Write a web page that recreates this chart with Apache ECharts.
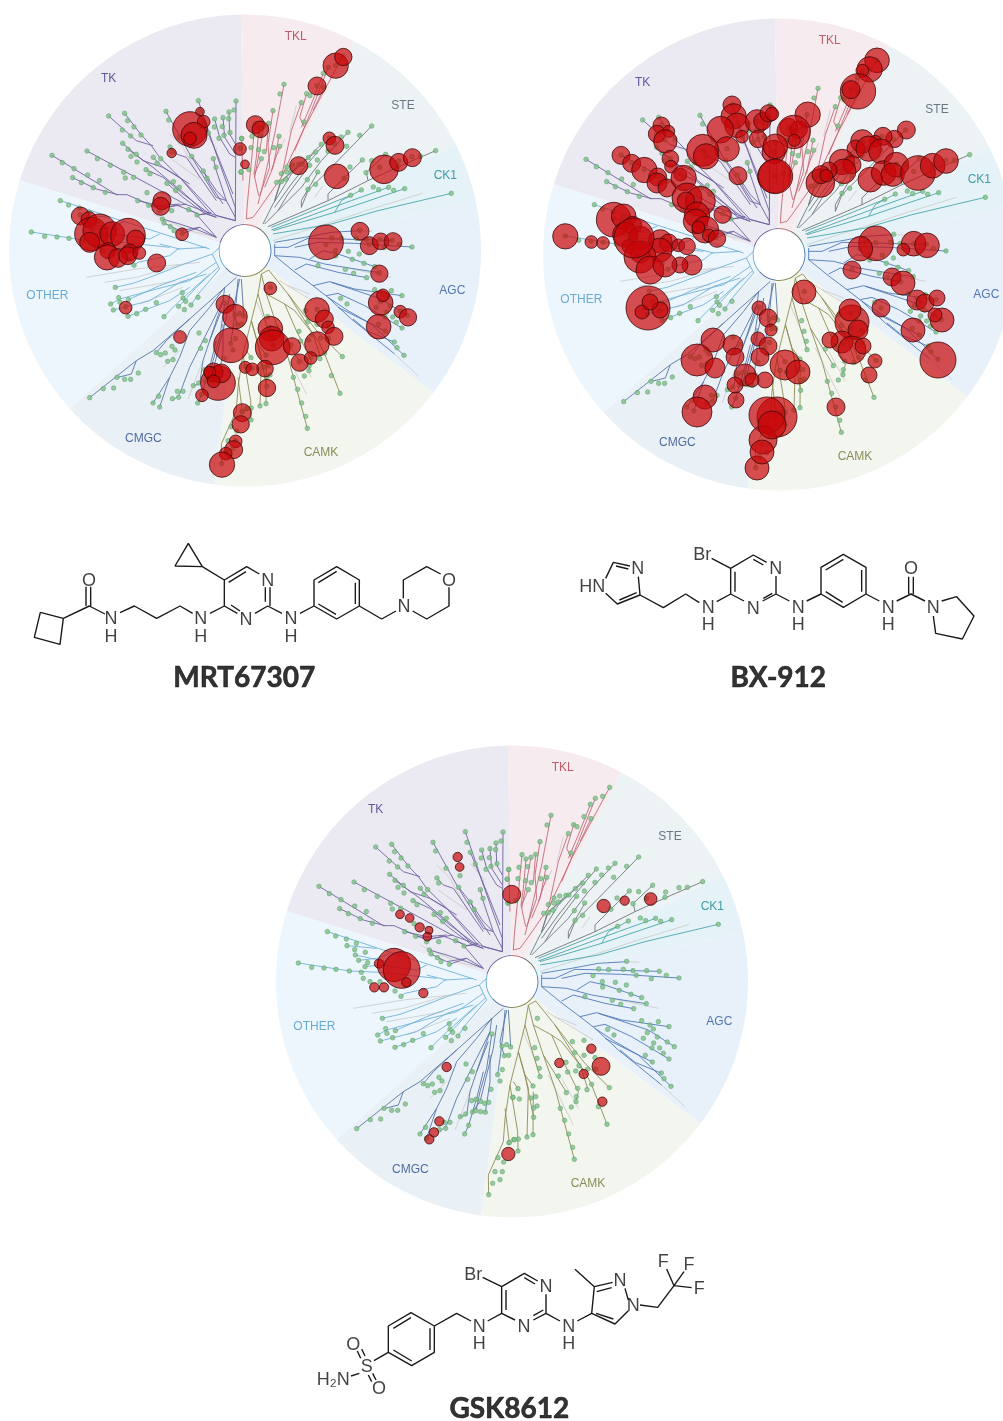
<!DOCTYPE html>
<html>
<head>
<meta charset="utf-8">
<style>html,body{margin:0;background:#fff}#chart{width:1003px;height:1421px}</style>
<script src="https://cdn.jsdelivr.net/npm/echarts@6/dist/echarts.min.js"></script>
</head>
<body>
<div id="chart"></div>
<script>
// every tree is read in one space: 3 units to a pixel, hub at (726,738)
const families = ['TK', 'TKL', 'STE', 'CK1', 'AGC', 'CAMK', 'CMGC', 'OTHER'];
const familySpans = [71.7, 28.6, 35.6, 14.8, 49, 60.5, 40.5, 59.3];
const familyLabelX = [317, 878, 1200, 1327, 1348, 954, 421, 133];
const familyLabelY = [225, 99, 305, 515, 861, 1345, 1305, 874];

// branches as flat x,y polylines, one list per family and per quadrant of the tree
const tkNW = [
  [147,454, 340,572, 372,572, 470,615, 520,603, 575,625, 640,700],
  [209,521, 280,555, 345,572],
  [252,441, 450,548, 545,600, 632,632, 697,650],
  [365,328, 415,393, 445,425, 470,460, 560,550, 640,635, 697,650],
  [317,336, 400,410, 450,425],
  [359,418, 420,470, 480,490, 560,540],
  [375,436, 450,490, 540,565, 600,620],
  [489,322, 560,450, 640,580, 670,590, 697,640],
  [586,290, 640,450, 697,610, 697,650],
  [699,291, 697,650],
  [601,352, 650,470, 690,570],
  [635,345, 650,400, 680,450, 697,460],
  [660,341, 665,400, 697,450],
  [678,324, 680,390, 697,420],
  [501,429, 520,450, 550,460, 640,590],
  [566,457, 600,500, 640,560, 670,590],
  [631,464, 640,500, 670,590],
  [601,501, 620,540, 660,600],
  [492,538, 540,580, 600,625, 640,640],
  [450,460, 480,490, 530,520, 620,625],
  [429,497, 480,520, 540,570, 620,630],
  [557,617, 590,632, 625,625],
  [582,633, 610,630, 640,640],
  [478,645, 530,660, 590,680, 640,700],
  [483,657, 530,680, 590,670, 640,700],
  [538,688, 590,670],
  [404,590, 470,605, 530,600],
  [437,604, 490,610, 550,600]
];
const otherNW = [
  [172,590, 250,615, 340,645, 450,680, 620,735],
  [85,684, 240,708, 330,712, 500,730],
  [231,632, 320,640],
  [256,660, 350,680],
  [266,676, 320,670, 360,655],
  [285,695, 330,690, 440,705, 470,690]
];
const otherSW = [
  [610,10, 525,15, 500,35, 405,55, 393,64],
  [628,30, 530,65, 440,100, 390,118, 337,130],
  [640,55, 560,110, 480,130, 350,165, 323,180],
  [580,85, 470,125, 376,167],
  [610,90, 530,115, 440,170, 331,198],
  [620,90, 520,180, 483,218],
  [645,70, 580,130, 530,185],
  [650,75, 590,145, 564,183],
  [375,217, 500,170, 560,130],
  [650,75, 640,55, 628,30, 650,10],
  [470,0, 530,15]
];
const cmgcSW = [
  [700,100, 560,225, 450,320, 400,350, 260,461],
  [400,350, 385,390, 345,400],
  [460,326, 490,290, 560,225],
  [665,130, 620,190, 560,260, 530,340, 500,400, 450,477],
  [660,170, 620,250, 580,330, 560,370, 530,450, 510,470],
  [655,200, 620,290, 600,350, 590,420, 571,425],
  [665,130, 660,170, 620,290],
  [710,105, 690,200, 703,242],
  [715,105, 720,180, 722,216],
  [705,105, 700,170, 690,250, 683,299],
  [680,150, 670,220, 650,300, 630,380, 607,411],
  [665,180, 650,280, 630,350, 618,407],
  [660,240, 660,320, 646,412],
  [640,290, 620,370, 596,451, 584,477],
  [500,400, 470,489]
];
const camkSE = [
  [92,78, 150,150, 200,215, 240,265, 313,338],
  [70,90, 85,150, 140,180, 170,200, 240,290, 260,330, 306,448],
  [85,150, 115,240, 150,340, 208,553],
  [115,240, 185,353],
  [140,180, 175,260, 220,350, 212,380],
  [150,150, 225,270, 248,340],
  [70,90, 60,150, 40,230, 15,330, 0,430, -5,500, -50,600, -49,659],
  [60,150, 85,240, 105,305],
  [40,230, 60,300, 84,333],
  [60,300, 86,427],
  [40,230, 70,340, 66,486],
  [15,330, 38,470, 39,528],
  [85,350, 84,479],
  [25,320, 39,341],
  [0,400, 13,503],
  [92,78, 70,90]
];
const agcSE = [
  [170,78, 205,60, 300,85, 386,101],
  [225,125, 275,113, 350,135, 492,155],
  [280,115, 340,135, 430,165, 508,215],
  [265,155, 300,148, 380,185, 492,252],
  [270,160, 330,200, 400,240, 498,334],
  [345,225, 390,262, 470,295],
  [300,190, 442,261],
  [110,35, 165,80, 225,125, 270,160, 340,225, 390,265, 470,330],
  [110,35, 185,40, 260,60, 320,70, 424,86],
  [215,45, 255,20, 300,30, 410,68],
  [110,0, 110,35]
];
const agcNE = [
  [110,715, 200,700, 280,685, 365,680],
  [110,730, 150,730, 210,703, 300,705, 463,709],
  [170,730, 240,715, 350,718, 522,729]
];
const tklNE = [
  [314,157, 200,370, 130,520, 60,620, 45,640, 25,645],
  [271,190, 220,320, 170,440],
  [256,208, 220,300, 190,370],
  [258,251, 225,320],
  [206,269, 185,340, 200,370],
  [190,296, 160,380, 130,520],
  [138,241, 110,390, 75,540, 60,600],
  [105,320, 90,420, 95,490, 65,575],
  [92,358, 85,440],
  [78,367, 50,520],
  [63,372, 55,460, 48,510, 62,575],
  [51,359, 28,600, 25,645],
  [11,403, 15,530],
  [123,397, 105,490, 80,550],
  [125,427, 100,500],
  [70,464, 50,510]
];
const steNE = [
  [593,440, 500,480, 390,530, 270,590, 90,668],
  [443,451, 385,505, 390,530],
  [373,468, 315,525, 270,570, 270,590],
  [401,366, 280,490, 210,560, 190,610],
  [330,385, 250,470, 190,550, 130,610, 80,660],
  [274,402, 200,490, 160,540, 110,610],
  [250,421, 160,510, 130,560, 105,600, 75,660],
  [233,444, 130,530, 110,590],
  [183,481, 125,540, 110,590],
  [215,484, 150,570, 120,620],
  [240,504, 190,590, 190,610]
];
const ck1NE = [
  [105,680, 290,625, 500,554],
  [640,568, 420,620, 280,660, 105,690],
  [338,574, 100,670],
  [370,558, 310,590, 290,625],
  [452,550, 340,590, 100,678]
];
const greyNW = [[500,390, 540,430, 590,520], [600,385, 640,430, 640,450], [505,465, 540,490, 590,525], [450,630, 560,680, 640,700]];
const greySW = [[250,100, 400,75, 590,55], [305,115, 400,100, 530,62], [350,140, 520,110], [410,180, 540,130], [480,370, 530,320], [555,465, 600,350]];
const greySE = [[125,110, 190,150, 265,195], [150,125, 215,150], [130,300, 205,450], [55,170, 100,280], [170,310, 220,400], [470,330, 540,395], [320,70, 460,100]];
const greyNE = [[175,305, 155,385], [140,405, 120,450], [255,545, 230,580], [553,568, 400,615, 310,645, 105,710], [365,680, 403,682]];

// leaf dots, flat x,y per quadrant
const leavesNW = [147,454,178,476,213,494,254,513,209,521,235,536,271,551,289,530,307,565,252,441,283,464,322,484,362,505,367,522,392,520,404,590,437,604,470,620,506,620,557,617,582,633,478,645,483,657,502,668,513,680,538,688,317,336,365,328,374,350,358,378,393,369,383,396,414,393,359,418,375,436,384,457,400,451,402,474,451,460,473,464,462,478,429,497,441,509,489,322,497,348,501,429,506,444,566,457,631,464,639,490,601,501,612,523,492,538,511,533,518,559,529,550,528,400,570,422,586,290,591,322,601,352,616,387,635,345,660,341,678,324,693,318,699,291,634,369,658,368,677,344,681,386,663,394,648,403,432,566,716,404,712,433,714,505,172,590,197,603,229,612,259,625,231,632,254,644,286,652,256,660,266,676,293,683,285,695,274,712,85,684,125,697,162,699,198,703,238,708];
const leavesNE = [314,157,293,184,271,190,256,208,258,251,237,245,206,269,216,275,190,296,198,354,138,241,126,270,105,320,92,358,78,367,63,372,51,359,42,397,68,395,11,403,39,431,62,437,79,443,70,464,107,431,125,427,123,397,6,432,9,503,33,497,401,366,330,385,365,394,310,399,274,402,250,421,290,420,326,427,233,444,270,442,211,461,238,468,183,481,192,480,215,484,164,483,147,489,146,504,160,501,130,509,144,526,130,533,116,535,239,504,208,527,233,541,210,556,318,523,336,489,373,468,401,470,443,451,384,506,425,490,482,471,480,487,522,458,547,457,593,440,338,574,370,558,406,549,422,557,452,550,467,559,500,554,640,568,365,679,281,702,311,704,355,703,384,707,425,707,463,709,264,722,394,721,439,731,484,721,522,729];
const leavesSW = [280,10,300,20,330,20,375,48,393,64,337,130,347,161,376,167,323,180,351,175,368,188,331,198,375,217,401,209,428,196,460,176,483,218,527,187,544,197,564,183,585,160,538,146,540,162,548,172,260,461,301,434,332,432,342,400,365,406,383,406,406,387,460,326,473,332,487,327,507,307,516,318,494,352,510,347,588,267,607,290,593,313,666,177,696,214,710,209,722,216,703,242,716,241,697,284,683,299,690,318,663,343,605,377,618,373,632,379,644,385,656,382,607,411,618,407,632,410,646,412,587,417,571,425,540,442,527,460,523,442,508,464,467,457,450,477,470,489,596,451,584,477,656,659,668,625,675,590,684,548,697,590,690,614,701,561,717,503,731,494,728,367];
const leavesSE = [292,20,293,36,331,22,364,30,343,46,378,58,410,68,424,86,240,65,322,76,347,88,386,101,410,137,435,150,445,162,460,140,492,155,427,173,457,186,415,190,487,201,508,215,446,204,441,219,464,219,475,235,492,252,308,163,327,180,421,241,442,261,469,294,477,311,498,334,97,130,89,218,96,250,103,280,105,305,84,333,39,341,24,367,43,372,92,365,78,369,96,393,86,399,86,427,40,492,28,494,13,503,66,486,84,479,39,528,202,200,237,196,209,233,237,241,270,248,183,262,188,291,222,272,212,288,248,282,160,303,260,328,218,340,246,344,184,353,214,365,213,380,199,396,166,400,179,436,191,477,203,517,208,553,313,338,280,395,306,448,272,283];

// inhibited kinases, x, y, radius
const hitsMRT = [[561,375,52],[591,323,13],[602,353,19],[573,394,39],[561,403,19],[506,447,14],[711,435,19],[726,481,13],[477,590,27],[473,607,27],[537,691,19],[232,636,27],[258,647,24],[265,690,50],[290,680,50],[328,690,37],[375,695,52],[398,705,27],[315,740,24],[380,745,25],[260,715,30],[312,760,38],[345,762,28],[374,755,27],[409,747,19],[461,777,27],[368,911,19],[531,999,19],[666,901,27],[696,938,37],[684,1024,52],[802,853,19],[802,974,37],[806,1004,37],[809,1030,52],[867,1027,26],[942,918,37],[964,945,27],[975,970,19],[993,997,27],[942,1020,37],[890,1076,26],[923,1062,19],[786,1094,25],[727,1090,18],[748,1096,19],[792,1152,26],[645,1137,52],[632,1105,28],[655,1108,28],[620,1105,18],[632,1132,19],[597,1174,19],[718,1226,27],[713,1261,26],[698,1312,19],[692,1337,27],[668,1349,19],[657,1382,38],[969,715,52],[1071,682,27],[1099,725,27],[1133,712,25],[1170,713,27],[1129,809,26],[1133,897,37],[1140,874,19],[1192,923,19],[1215,940,26],[1127,968,37],[998,185,38],[1021,159,26],[942,246,27],[757,362,27],[772,376,25],[887,485,27],[979,403,19],[996,424,27],[1001,517,37],[1143,496,43],[1187,475,27],[1228,461,27]];
const hitsBX = [[585,291,27],[590,325,38],[600,352,37],[615,386,19],[550,365,40],[570,423,37],[497,427,48],[507,445,38],[603,503,27],[660,340,35],[676,340,26],[695,316,26],[663,393,26],[710,432,35],[712,505,50],[373,352,25],[360,378,26],[395,370,18],[385,400,35],[400,452,25],[402,476,19],[252,442,27],[284,466,27],[322,486,38],[362,507,27],[360,525,30],[390,540,27],[430,500,19],[440,510,38],[450,570,45],[490,580,45],[447,578,26],[480,620,38],[476,640,37],[505,665,40],[484,658,19],[515,682,19],[540,692,26],[557,620,26],[230,635,52],[260,625,37],[287,652,27],[265,680,38],[310,690,35],[370,700,35],[395,705,27],[424,712,19],[450,715,25],[275,715,20],[310,735,30],[85,685,38],[163,702,19],[198,705,19],[705,318,20],[812,320,38],[755,358,27],[785,365,26],[770,372,50],[772,397,18],[715,415,37],[715,505,52],[1020,157,37],[998,184,38],[976,188,19],[963,250,53],[942,245,27],[1108,366,27],[1072,393,26],[1038,385,27],[1015,400,18],[976,400,35],[957,423,27],[995,422,38],[1032,430,37],[1000,515,37],[1040,495,37],[1078,470,37],[1067,500,35],[1143,495,52],[1187,473,37],[1227,459,37],[915,462,38],[945,470,27],[920,490,37],[850,525,43],[875,487,25],[852,500,27],[868,503,19],[1017,706,52],[970,722,37],[1130,707,37],[1170,712,37],[1099,725,19],[945,786,27],[1065,807,27],[1098,825,36],[1140,876,30],[1164,885,27],[1200,870,24],[1215,936,36],[1128,966,36],[1194,921,21],[1203,1056,54],[1032,900,27],[801,852,36],[897,1197,27],[945,942,51],[939,906,33],[963,966,30],[915,1002,33],[945,1026,42],[978,1014,24],[1014,1059,21],[996,1101,24],[879,996,24],[666,900,21],[693,930,27],[702,966,18],[663,993,21],[528,996,36],[588,1011,30],[594,1047,27],[693,1014,27],[669,1047,27],[480,1056,48],[534,1080,30],[624,1101,33],[594,1131,24],[597,1176,24],[504,1167,36],[480,1212,45],[744,1071,45],[783,1092,36],[684,1116,24],[645,1116,21],[720,1227,60],[690,1221,54],[678,1296,42],[660,1380,36],[675,1332,36],[705,1251,42],[333,900,66],[315,912,21],[369,906,24],[339,882,24],[465,771,30],[429,771,24],[369,726,36],[309,747,48],[291,690,60],[339,786,42],[384,771,36]];
const hitsGSK = [[563,366,14],[569,396,13],[390,538,13],[419,549,13],[449,577,14],[477,586,12],[472,605,13],[725,478,27],[327,686,14],[372,690,50],[395,705,55],[313,757,14],[342,757,14],[409,742,14],[460,774,14],[530,996,14],[508,1159,14],[492,1192,14],[478,1213,14],[715,1257,20],[964,941,14],[868,984,14],[941,1017,14],[993,994,27],[997,1100,14],[1001,513,20],[1064,497,14],[1142,492,19]];

// molecules: bond polylines, then atoms as text,x,y; 3 units to a pixel
const bondsMRT = [
  [121,247, 190,265, 180,343, 103,322, 121,247],
  [190,265, 268,228, 315,252], [258,170, 258,228], [272,170, 272,228],
  [360,248, 403,228, 470,265, 540,228, 578,250], [630,250, 673,228],
  [712,250, 673,228, 673,150, 740,110, 778,132], [765,250, 803,228, 846,250], [796,172, 796,215], [810,172, 810,228],
  [686,157, 738,125], [693,225, 720,243],
  [607,110, 565,40, 525,108, 607,110], [607,110, 673,150],
  [900,250, 942,228, 942,150, 1010,110, 1078,150, 1078,228, 1010,267, 942,228],
  [955,158, 1010,124], [1066,158, 1066,222], [955,222, 1008,253],
  [1078,228, 1145,267, 1188,243], [1210,205, 1210,150, 1280,110, 1322,132],
  [1347,172, 1347,228, 1280,267, 1238,243]
];
const atomsMRT = [['O',267,152],['N',333,267],['H',333,320],['N',602,267],['H',602,320],['N',803,152],['N',738,270],['N',873,267],['H',873,320],['N',1212,230],['O',1347,152]];
const bondsBX = [
  [197,145, 220,97, 270,108], [295,140, 300,195, 232,222, 197,190], [228,108, 265,117], [238,210, 290,188],
  [300,195, 370,233, 437,192, 478,218], [530,215, 572,192],
  [612,213, 572,192, 572,115, 640,75, 680,97], [668,213, 708,192, 748,213], [708,138, 708,192],
  [585,125, 585,185], [640,88, 670,105], [670,205, 697,190], [515,85, 572,115],
  [800,213, 843,192, 843,112, 910,73, 978,112, 978,192, 910,232, 843,192],
  [857,120, 910,88], [965,120, 965,185], [857,185, 908,217],
  [978,192, 1018,213], [1070,213, 1113,192, 1155,213], [1106,140, 1106,192], [1120,140, 1120,192],
  [1205,213, 1250,200, 1302,258, 1267,327, 1187,310, 1180,258]
];
const atomsBX = [['HN',157,170],['N',293,118],['N',505,234],['H',505,285],['N',707,117],['N',640,237],['Br',487,75],['N',775,234],['H',775,285],['N',1045,234],['H',1045,285],['N',1180,234],['O',1113,117]];
const bondsGSK = [
  [265,322, 265,243, 333,203, 403,243, 403,322, 335,362, 265,322],
  [280,250, 333,218], [390,250, 390,315], [280,315, 335,348],
  [403,243, 470,205, 513,228], [563,228, 605,205],
  [645,225, 605,205, 605,125, 673,85, 713,108], [738,148, 738,205, 780,228], [738,205, 700,225],
  [618,135, 618,195], [673,98, 705,117], [700,212, 730,195], [548,97, 605,125],
  [832,228, 875,205, 883,125, 938,112], [975,130, 985,165], [985,197, 945,237, 875,205],
  [890,140, 935,128], [888,205, 940,222], [883,125, 825,73],
  [1020,180, 1073,187, 1122,122], [1122,122, 1100,72], [1122,122, 1152,80], [1122,122, 1175,128],
  [265,322, 222,347], [178,385, 153,393], [182,340, 172,318], [195,333, 185,312], [205,390, 215,410], [218,385, 228,405]
];
const atomsGSK = [['N',538,245],['H',538,297],['N',738,127],['N',672,247],['Br',520,89],['N',806,245],['H',806,297],['N',960,107],['N',1000,182],['F',1090,52],['F',1167,60],['F',1198,132],['S',200,367],['O',160,299],['O',237,432],['H₂N',100,405]];

const familyColors = ['#6f62a2', '#c26a78', '#70767c', '#4aa6a8', '#5079b6', '#8c8c55', '#5775a6', '#72b2d6'];
const sectorColors = ['#ebe9f1', '#f6ebee', '#edf2f5', '#e5f3f8', '#e8f1fa', '#f3f6ef', '#eaf1f6', '#edf6fc'];
const labelColors = ['#3a3488', '#ad3a4a', '#47566a', '#14868e', '#28589f', '#6e7230', '#284887', '#4598cb'];
const NW = [0, 0], NE = [705, 0], SW = [0, 720], SE = [705, 720];

function placed(polys, q) {
  const out = [];
  polys.forEach(p => {
    for (let i = 0; i < p.length; i += 2) out.push([p[i] + q[0], p[i + 1] + q[1]]);
    out.push(['-', '-']);
  });
  return out;
}
function pairs(flat, q) {
  const out = [];
  for (let i = 0; i < flat.length; i += 2) out.push([flat[i] + q[0], flat[i + 1] + q[1]]);
  return out;
}

const branchData = [
  placed(tkNW, NW),
  placed(tklNE, NE),
  placed(steNE, NE),
  placed(ck1NE, NE),
  placed(agcNE, NE).concat(placed(agcSE, SE)),
  placed(camkSE, SE),
  placed(cmgcSW, SW),
  placed(otherNW, NW).concat(placed(otherSW, SW))
];
const greyData = placed(greyNW, NW).concat(placed(greySW, SW), placed(greySE, SE), placed(greyNE, NE));
const leafData = pairs(leavesNW, NW).concat(pairs(leavesNE, NE), pairs(leavesSW, SW), pairs(leavesSE, SE));

const trees = [
  { left: 3, top: 4, w: 490, hits: hitsMRT },
  { left: 537, top: 8, w: 466, hits: hitsBX },
  { left: 270, top: 735, w: 490, hits: hitsGSK }
];
const molecules = [
  { left: 0, top: 530, w: 500, h: 170, bonds: bondsMRT, atoms: atomsMRT, name: 'MRT67307', nx: 733, ny: 445 },
  { left: 540, top: 530, w: 463, h: 170, bonds: bondsBX, atoms: atomsBX, name: 'BX-912', nx: 715, ny: 445 },
  { left: 300, top: 1245, w: 440, h: 176, bonds: bondsGSK, atoms: atomsGSK, name: 'GSK8612', nx: 628, ny: 492 }
];

const grid = [], xAxis = [], yAxis = [], series = [];
function addSpace(left, top, w, h) {
  grid.push({ left, top, width: w, height: h });
  xAxis.push({ type: 'value', min: 0, max: w * 3, show: false, gridIndex: grid.length - 1 });
  yAxis.push({ type: 'value', min: 0, max: h * 3, inverse: true, show: false, gridIndex: grid.length - 1 });
  return grid.length - 1;
}
const pieOf = (center, radius, colors, z) => ({
  type: 'pie', center, radius, startAngle: 162.7, silent: true, z, label: { show: false }, labelLine: { show: false },
  data: familySpans.map((v, i) => ({ value: v, name: families[i], itemStyle: { color: colors[i] } }))
});

trees.forEach(t => {
  const g = addSpace(t.left, t.top, t.w, 490);
  const axes = { xAxisIndex: g, yAxisIndex: g };
  const center = [t.left + 242, t.top + 246.5];
  series.push(pieOf(center, [27, 236], sectorColors, 1));
  series.push(pieOf(center, [25.5, 26.5], familyColors, 2));
  series.push({ type: 'line', ...axes, data: greyData, showSymbol: false, clip: false, silent: true, z: 3, lineStyle: { color: '#c9c9c9', width: 0.8 } });
  branchData.forEach((d, i) => {
    series.push({ type: 'line', ...axes, data: d, showSymbol: false, clip: false, silent: true, z: 4, lineStyle: { color: familyColors[i], width: 0.9 } });
  });
  series.push({
    type: 'scatter', ...axes, data: leafData, symbolSize: 4.6, clip: false, silent: true, z: 5,
    itemStyle: { color: '#80c088', borderColor: '#569a68', borderWidth: 0.6 }
  });
  series.push({
    type: 'scatter', ...axes, data: t.hits, symbolSize: d => d[2] * 2 / 3, clip: false, silent: true, z: 6,
    itemStyle: { color: 'rgba(200,5,8,0.88)', borderColor: '#3d0a0a', borderWidth: 1 }
  });
  series.push({
    type: 'scatter', ...axes, symbolSize: 0, clip: false, silent: true, z: 7,
    data: families.map((f, i) => ({
      value: [familyLabelX[i], familyLabelY[i]],
      label: { show: true, position: 'inside', formatter: f, color: labelColors[i], fontSize: 12, fontFamily: 'Liberation Sans' }
    }))
  });
});

molecules.forEach(m => {
  const g = addSpace(m.left, m.top, m.w, m.h);
  const axes = { xAxisIndex: g, yAxisIndex: g };
  series.push({ type: 'line', ...axes, data: placed(m.bonds, NW), showSymbol: false, clip: false, silent: true, z: 3, lineStyle: { color: '#1a1a1a', width: 1.4 } });
  series.push({
    type: 'scatter', ...axes, symbolSize: 0, clip: false, silent: true, z: 4,
    data: m.atoms.map(a => ({
      value: [a[1], a[2]],
      label: { show: true, position: 'inside', formatter: a[0], color: '#111', fontSize: 18, fontFamily: 'Liberation Sans' }
    })).concat([{
      value: [m.nx, m.ny],
      label: { show: true, position: 'inside', formatter: m.name, color: '#000', fontSize: 28, fontWeight: 'bold', fontFamily: 'Lato', textBorderColor: '#000', textBorderWidth: 0.6 }
    }])
  });
});

const chart = echarts.init(document.getElementById('chart'), null, { renderer: 'canvas' });
chart.setOption({ animation: false, backgroundColor: '#fff', grid, xAxis, yAxis, series });
</script>
</body>
</html>
